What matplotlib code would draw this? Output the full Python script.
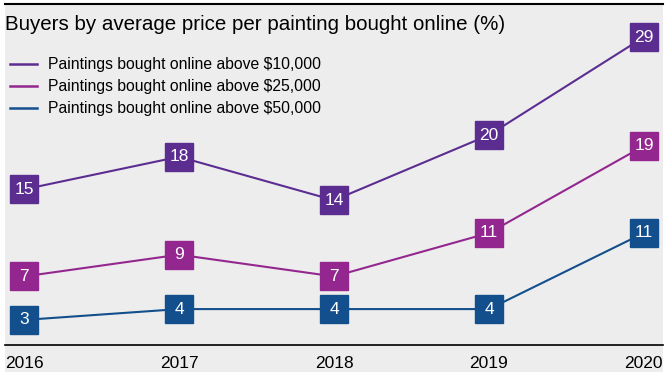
import matplotlib
matplotlib.use("Agg")
import matplotlib.pyplot as plt
from matplotlib.patches import Rectangle
from matplotlib.lines import Line2D
import matplotlib.transforms as mtransforms
from matplotlib import font_manager

names = sorted({f.name for f in font_manager.fontManager.ttflist})
narrow = "Liberation Sans Narrow" if "Liberation Sans Narrow" in names else "Liberation Sans"
plt.rcParams['font.family'] = [narrow, 'DejaVu Sans']

years = [2016, 2017, 2018, 2019, 2020]
above_10k = [15, 18, 14, 20, 29]
above_25k = [7, 9, 7, 11, 19]
above_50k = [3, 4, 4, 4, 11]
series_names = ["Paintings bought online above $10,000",
                "Paintings bought online above $25,000",
                "Paintings bought online above $50,000"]
colors = ["#5c2d91", "#93278f", "#134f8d"]
title = "Buyers by average price per painting bought online (%)"

W, H = 671, 377
fig = plt.figure(figsize=(W / 100, H / 100), dpi=100)
fig.patch.set_facecolor("white")
fig.patches.append(Rectangle((5 / W, (H - 372) / H), 658 / W, 368 / H,
                             transform=fig.transFigure, facecolor="#ededed",
                             edgecolor="none", zorder=-5))

ax = fig.add_axes([5 / W, (H - 345) / H, 658 / W, 341 / H])
ax.set_zorder(2)
ax.set_facecolor("none")
ax.set_xlim(2016 - 19 / 155, 2020 + 19 / 155)
ax.set_ylim((352.6 - 345) / 10.88, (352.6 - 4) / 10.88)

for vals, c in zip([above_10k, above_25k, above_50k], colors):
    ax.plot(years, vals, color=c, lw=1.5, zorder=2)
    ax.plot(years, vals, ls="none", marker="s", markersize=20.5,
            markerfacecolor=c, markeredgecolor=c, zorder=3)
    for x, v in zip(years, vals):
        ax.text(x, v, str(v), color="white", ha="center", va="center",
                fontsize=12.5, zorder=4)

for s in ["left", "right"]:
    ax.spines[s].set_visible(False)
ax.spines["top"].set_linewidth(1.5)
ax.spines["bottom"].set_linewidth(1.2)
ax.set_yticks([])
ax.set_xticks(years)
ax.set_xticklabels([str(y) for y in years], fontsize=12.5)
ax.tick_params(axis="x", length=0, pad=8)
labels = ax.get_xticklabels()
labels[0].set_ha("left")
labels[-1].set_ha("right")
offs = [mtransforms.ScaledTranslation(-19 / 100, 0, fig.dpi_scale_trans),
        mtransforms.ScaledTranslation(19 / 100, 0, fig.dpi_scale_trans)]
labels[0].set_transform(labels[0].get_transform() + offs[0])
labels[-1].set_transform(labels[-1].get_transform() + offs[1])

fig.text(5 / W, 1 - 25 / H, title, fontsize=14.8, ha="left", va="center")

handles = [Line2D([0], [0], color=c, lw=1.8) for c in colors]
leg = fig.legend(handles, series_names, loc="upper left",
                 bbox_to_anchor=(10 / W, 1 - 57 / H), frameon=False,
                 fontsize=11.3, handlelength=1.7, handletextpad=0.75,
                 labelspacing=0.45, borderaxespad=0, borderpad=0)

fig.savefig("out.png", dpi=100, facecolor="white")
